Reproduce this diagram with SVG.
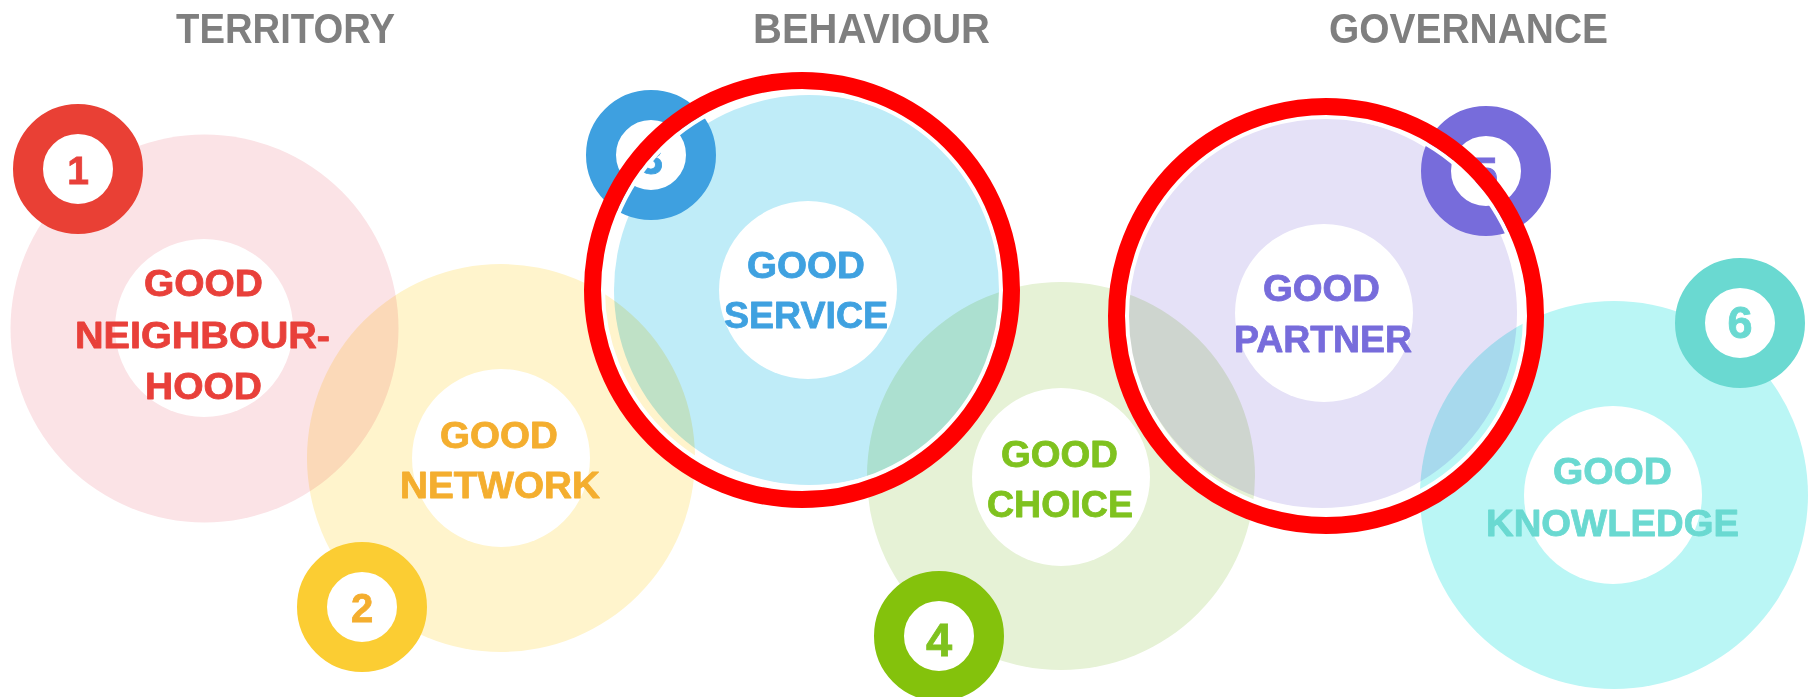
<svg xmlns="http://www.w3.org/2000/svg" width="1816" height="697" viewBox="0 0 1816 697">
<style>
.big{mix-blend-mode:multiply}
.hole{fill:#ffffff}
.hdr{font-family:"Liberation Sans",Arial,sans-serif;font-weight:bold;font-size:42px;fill:#7f7f7f;text-anchor:middle}
.lbl{font-family:"Liberation Sans",Arial,sans-serif;font-weight:bold;font-size:36px;text-anchor:middle;stroke-width:0.8px;stroke-linejoin:round}
.num{font-family:"Liberation Sans",Arial,sans-serif;font-weight:bold;text-anchor:middle;stroke-width:0.8px}
.ring{fill:none;stroke:#ff0000;stroke-width:17}
.halo{fill:none;stroke:#ffffff;stroke-width:4}
.c1{fill:#e8403a;stroke:#e8403a}
.c2{fill:#f4ae2f;stroke:#f4ae2f}
.c3{fill:#3fa1e0;stroke:#3fa1e0}
.c4{fill:#7fc21f;stroke:#7fc21f}
.c5{fill:#776cdb;stroke:#776cdb}
.c6{fill:#6ad9d1;stroke:#6ad9d1}
</style>
<rect x="0" y="0" width="1816" height="697" fill="#ffffff"/>

<g id="headers">
<text class="hdr" x="285.5" y="43" textLength="219" lengthAdjust="spacingAndGlyphs">TERRITORY</text>
<text class="hdr" x="871.5" y="43" textLength="237" lengthAdjust="spacingAndGlyphs">BEHAVIOUR</text>
<text class="hdr" x="1468.5" y="43" textLength="279" lengthAdjust="spacingAndGlyphs">GOVERNANCE</text>
</g>

<g id="backgrounds">
<circle class="big" cx="204.5" cy="328.5" r="194" fill="#fbe3e6"/>
<circle class="big" cx="501" cy="458" r="194" fill="#fff4cc"/>
<circle class="big" cx="809" cy="290" r="195" fill="#bfecf8"/>
<circle class="big" cx="1061" cy="476" r="194" fill="#e6f2d6"/>
<circle class="big" cx="1322" cy="313" r="195" fill="#e5e1f7"/>
<circle class="big" cx="1614" cy="495" r="194" fill="#baf6f5"/>
</g>

<g id="node1">
<circle class="hole" cx="204" cy="328" r="89"/>
<text class="lbl c1" x="203.5" y="296" textLength="119" lengthAdjust="spacingAndGlyphs">GOOD</text>
<text class="lbl c1" x="202.5" y="348" textLength="255" lengthAdjust="spacingAndGlyphs">NEIGHBOUR-</text>
<text class="lbl c1" x="203.5" y="399" textLength="117" lengthAdjust="spacingAndGlyphs">HOOD</text>
<circle cx="78" cy="169" r="50" fill="#ffffff" stroke="#e94035" stroke-width="30"/>
<text class="num c1" font-size="39" x="78" y="184">1</text>
</g>

<g id="node2">
<circle class="hole" cx="501" cy="458" r="89"/>
<text class="lbl c2" x="499" y="448" textLength="118" lengthAdjust="spacingAndGlyphs">GOOD</text>
<text class="lbl c2" x="500" y="498" textLength="200" lengthAdjust="spacingAndGlyphs">NETWORK</text>
<circle cx="362" cy="607" r="50" fill="#ffffff" stroke="#fbcd33" stroke-width="30"/>
<text class="num c2" font-size="40" x="362" y="622">2</text>
</g>

<g id="node3">
<circle class="hole" cx="808" cy="290" r="89"/>
<text class="lbl c3" x="806" y="278" textLength="118" lengthAdjust="spacingAndGlyphs">GOOD</text>
<text class="lbl c3" x="806" y="328" textLength="164" lengthAdjust="spacingAndGlyphs">SERVICE</text>
<circle cx="651" cy="155" r="50" fill="#ffffff" stroke="#3ea0e0" stroke-width="30"/>
<text class="num c3" font-size="44" x="651" y="174">3</text>
</g>

<g id="node4">
<circle class="hole" cx="1061" cy="477" r="89"/>
<text class="lbl c4" x="1059.5" y="467" textLength="117" lengthAdjust="spacingAndGlyphs">GOOD</text>
<text class="lbl c4" x="1060" y="517" textLength="146" lengthAdjust="spacingAndGlyphs">CHOICE</text>
<circle cx="939" cy="636" r="50" fill="#ffffff" stroke="#84c20c" stroke-width="30"/>
<text class="num c4" font-size="47" x="939" y="656">4</text>
</g>

<g id="node5">
<circle class="hole" cx="1324" cy="313" r="89"/>
<text class="lbl c5" x="1321.5" y="301" textLength="117" lengthAdjust="spacingAndGlyphs">GOOD</text>
<text class="lbl c5" x="1323" y="352" textLength="178" lengthAdjust="spacingAndGlyphs">PARTNER</text>
<circle cx="1486" cy="171" r="50" fill="#ffffff" stroke="#776cdb" stroke-width="30"/>
<text class="num c5" font-size="46" x="1485" y="190">5</text>
</g>

<g id="node6">
<circle class="hole" cx="1613" cy="495" r="89"/>
<text class="lbl c6" x="1612.5" y="484" textLength="119" lengthAdjust="spacingAndGlyphs">GOOD</text>
<text class="lbl c6" x="1612.5" y="536" textLength="253" lengthAdjust="spacingAndGlyphs">KNOWLEDGE</text>
<circle cx="1740" cy="323" r="50" fill="#ffffff" stroke="#6ad9d1" stroke-width="30"/>
<text class="num c6" font-size="45" x="1740" y="338">6</text>
</g>

<g id="highlight-service">
<circle class="halo" cx="802" cy="290" r="199"/>
<circle class="ring" cx="802" cy="290" r="209.5"/>
</g>

<g id="highlight-partner">
<circle class="halo" cx="1326" cy="316" r="199"/>
<circle class="ring" cx="1326" cy="316" r="209.5"/>
</g>
</svg>
